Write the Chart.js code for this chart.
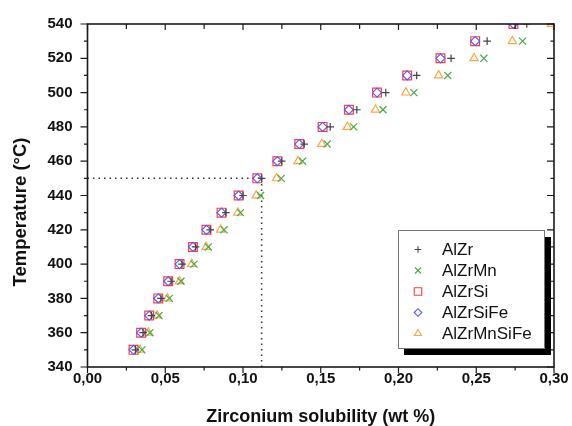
<!DOCTYPE html>
<html>
<head>
<meta charset="utf-8">
<script src="https://cdn.jsdelivr.net/npm/chart.js"></script>
<style>
  html, body { margin: 0; padding: 0; background: #fff; }
</style>
</head>
<body>
<canvas id="chart" width="572" height="426"></canvas>
<script>
// Temperaturas (°C) e solubilidade do Zr (wt %)
const temperaturas = [350, 360, 370, 380, 390, 400, 410, 420, 430, 440, 450, 460, 470, 480, 490, 500, 510, 520, 530, 540];
const alZr       = [0.0308, 0.0357, 0.0411, 0.0472, 0.0538, 0.0608, 0.0695, 0.0789, 0.0890, 0.1000, 0.1120, 0.1249, 0.1394, 0.1561, 0.1732, 0.1918, 0.2117, 0.2338, 0.2570, 0.2825];
const alZrMn     = [0.0350, 0.0401, 0.0460, 0.0526, 0.0601, 0.0685, 0.0777, 0.0878, 0.0984, 0.1113, 0.1246, 0.1383, 0.1542, 0.1711, 0.1900, 0.2099, 0.2317, 0.2549, 0.2798, 0.3060];
const alZrSi     = [0.0296, 0.0345, 0.0397, 0.0455, 0.0519, 0.0592, 0.0678, 0.0765, 0.0862, 0.0972, 0.1092, 0.1221, 0.1362, 0.1512, 0.1681, 0.1862, 0.2056, 0.2270, 0.2493, 0.2739];
const alZrSiFe   = [0.0296, 0.0345, 0.0397, 0.0455, 0.0519, 0.0592, 0.0678, 0.0765, 0.0862, 0.0972, 0.1092, 0.1221, 0.1362, 0.1512, 0.1681, 0.1862, 0.2056, 0.2270, 0.2493, 0.2739];
const alZrMnSiFe = [0.0338, 0.0392, 0.0448, 0.0514, 0.0592, 0.0671, 0.0763, 0.0857, 0.0967, 0.1085, 0.1216, 0.1354, 0.1507, 0.1671, 0.1852, 0.2047, 0.2258, 0.2486, 0.2732, 0.2984];

// Ticks dos eixos
const xTicks = [0, 0.05, 0.10, 0.15, 0.20, 0.25, 0.30];
const yTicks = [340, 360, 380, 400, 420, 440, 460, 480, 500, 520, 540];

// Linha pontilhada de referência (450 °C)
const guiaX = 0.112;
const guiaY = 450;

const FONTE = '"Liberation Sans", Arial, sans-serif';
const pontos = (valores) => valores.map((v, i) => ({ x: v, y: temperaturas[i] }));

const series = [
    { label: 'AlZr',       data: alZr,       pointStyle: 'cross',    pointRadius: 3.8, color: '#444444' },
    { label: 'AlZrMn',     data: alZrMn,     pointStyle: 'crossRot', pointRadius: 5,   color: '#43ad47' },
    { label: 'AlZrSiFe',   data: alZrSiFe,   pointStyle: 'rectRot',  pointRadius: 4.5, color: '#5a5aff' },
    { label: 'AlZrSi',     data: alZrSi,     pointStyle: 'rect',     pointRadius: 6.2, color: '#ff3c3c' },
    { label: 'AlZrMnSiFe', data: alZrMnSiFe, pointStyle: 'triangle', pointRadius: 4.8, color: '#ffa54a' }
];
const ordemLegenda = ['AlZr', 'AlZrMn', 'AlZrSi', 'AlZrSiFe', 'AlZrMnSiFe'];

const datasets = series.map(s => ({
    label: s.label,
    data: pontos(s.data),
    pointStyle: s.pointStyle,
    pointRadius: s.pointRadius,
    pointHoverRadius: s.pointRadius,
    pointBorderColor: s.color,
    pointBackgroundColor: 'rgba(0,0,0,0)',
    pointBorderWidth: 1.2,
    showLine: false,
    clip: 0
}));

// Linhas pontilhadas
const guia = (data) => ({
    label: '_guia',
    data: data,
    showLine: true,
    borderColor: '#333333',
    borderWidth: 1.5,
    borderDash: [1.5, 4],
    pointRadius: 0,
    clip: 0
});
datasets.push(guia([{ x: 0, y: guiaY }, { x: guiaX, y: guiaY }]));
datasets.push(guia([{ x: guiaX, y: yTicks[0] }, { x: guiaX, y: guiaY }]));

// Moldura e marcas dos eixos (para fora à esquerda/embaixo, para dentro em cima/direita)
const molduraPlugin = {
    id: 'moldura',
    afterDatasetsDraw(chart) {
        const { ctx, chartArea: a, scales: { x, y } } = chart;
        ctx.save();
        ctx.strokeStyle = '#1a1a1a';
        ctx.lineWidth = 1.2;
        ctx.beginPath();
        xTicks.forEach((v, i) => {
            const px = x.getPixelForValue(v);
            ctx.moveTo(px, a.bottom); ctx.lineTo(px, a.bottom + 6);
            ctx.moveTo(px, a.top); ctx.lineTo(px, a.top + 6);
            if (i < xTicks.length - 1) {
                const pm = x.getPixelForValue((v + xTicks[i + 1]) / 2);
                ctx.moveTo(pm, a.bottom); ctx.lineTo(pm, a.bottom + 3.5);
                ctx.moveTo(pm, a.top); ctx.lineTo(pm, a.top + 5);
            }
        });
        yTicks.forEach((v, i) => {
            const py = y.getPixelForValue(v);
            ctx.moveTo(a.left, py); ctx.lineTo(a.left - 7, py);
            ctx.moveTo(a.right, py); ctx.lineTo(a.right - 7, py);
            if (i < yTicks.length - 1) {
                const pm = y.getPixelForValue((v + yTicks[i + 1]) / 2);
                ctx.moveTo(a.left, pm); ctx.lineTo(a.left - 3.5, pm);
                ctx.moveTo(a.right, pm); ctx.lineTo(a.right - 3.5, pm);
            }
        });
        ctx.stroke();
        ctx.lineWidth = 1.6;
        ctx.strokeRect(a.left, a.top, a.right - a.left, a.bottom - a.top);

        // Título do eixo Y
        ctx.translate(21, 212);
        ctx.rotate(-Math.PI / 2);
        ctx.fillStyle = '#111';
        ctx.font = 'bold 18.5px ' + FONTE;
        ctx.textAlign = 'center';
        ctx.textBaseline = 'middle';
        ctx.fillText('Temperature (°C)', 0, 0);
        ctx.restore();
    }
};

// Legenda com caixa e sombra
const legendaPlugin = {
    id: 'legendaCaixa',
    afterDraw(chart) {
        const { ctx } = chart;
        const bx = 398, by = 230, bw = 146, bh = 118;
        ctx.save();
        ctx.fillStyle = '#000';
        ctx.fillRect(bx + 6, by + 7, bw + 1, bh);
        ctx.fillStyle = '#fff';
        ctx.fillRect(bx, by, bw, bh);
        ctx.strokeStyle = '#777';
        ctx.lineWidth = 1;
        ctx.strokeRect(bx + 0.5, by + 0.5, bw, bh);
        ordemLegenda.forEach((nome, i) => {
            const s = series.find(d => d.label === nome);
            const yy = 249.5 + i * 21;
            ctx.strokeStyle = s.color;
            ctx.fillStyle = 'rgba(0,0,0,0)';
            ctx.lineWidth = 1.1;
            Chart.helpers.drawPoint(ctx, { pointStyle: s.pointStyle, radius: s.pointRadius * 0.85, borderWidth: 1.1, rotation: 0 }, 418, yy);
            ctx.fillStyle = '#111';
            ctx.font = '17px ' + FONTE;
            ctx.textAlign = 'left';
            ctx.textBaseline = 'middle';
            ctx.fillText(nome, 442, yy + 1);
        });
        ctx.restore();
    }
};

new Chart(document.getElementById('chart'), {
    type: 'scatter',
    data: { datasets },
    options: {
        responsive: false,
        animation: false,
        layout: { padding: { top: 24, right: 18, left: 0, bottom: 0 } },
        plugins: {
            legend: { display: false },
            tooltip: { enabled: false }
        },
        scales: {
            x: {
                type: 'linear',
                min: xTicks[0],
                max: xTicks[xTicks.length - 1],
                afterBuildTicks: (scale) => { scale.ticks = xTicks.map(v => ({ value: v })); },
                afterFit: (scale) => { scale.height = 59; },
                grid: { display: false, drawTicks: false },
                border: { display: false },
                ticks: {
                    autoSkip: false,
                    padding: 2.5,
                    color: '#111',
                    font: { family: FONTE, size: 15, weight: 'bold' },
                    callback: (v) => Number(v).toFixed(2).replace('.', ',')
                },
                title: {
                    display: true,
                    text: 'Zirconium solubility (wt %)',
                    color: '#111',
                    padding: 0,
                    font: { family: FONTE, size: 18, weight: 'bold', lineHeight: 1 }
                }
            },
            y: {
                type: 'linear',
                min: yTicks[0],
                max: yTicks[yTicks.length - 1],
                afterBuildTicks: (scale) => { scale.ticks = yTicks.map(v => ({ value: v })); },
                afterFit: (scale) => { scale.width = 87.5; },
                grid: { display: false, drawTicks: false },
                border: { display: false },
                ticks: {
                    autoSkip: false,
                    padding: 15,
                    color: '#111',
                    font: { family: FONTE, size: 15, weight: 'bold' }
                }
            }
        }
    },
    plugins: [molduraPlugin, legendaPlugin]
});
</script>
</body>
</html>
